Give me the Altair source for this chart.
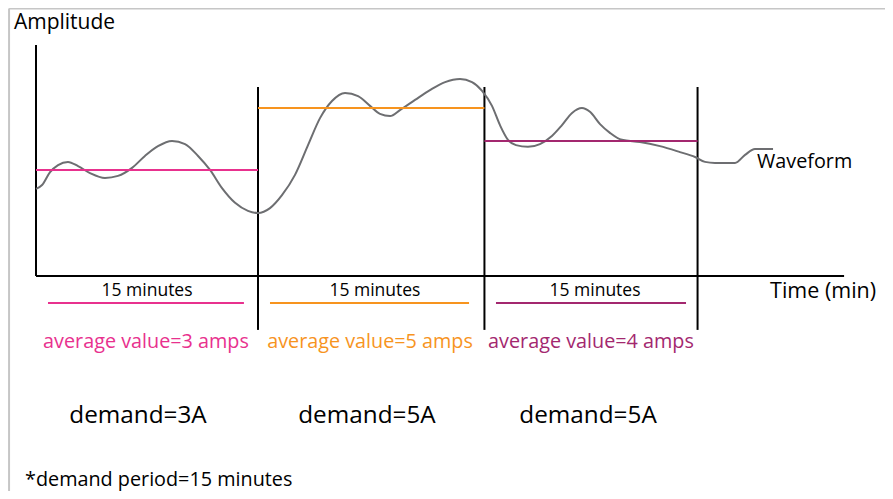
import altair as alt
import pandas as pd

# ---- data (time in minutes, amplitude in arbitrary units; axis baseline = 0) ----
wave_t = [0, 0.41, 0.95, 1.49, 2.16, 2.84, 3.65, 4.66, 5.54, 6.49, 7.36, 8.24, 9.19, 10.07,
          10.95, 11.76, 12.57, 13.45, 14.32, 15.0, 15.81, 16.62, 17.5, 18.38, 19.19, 20.0,
          20.88, 21.76, 22.57, 23.24, 23.92, 24.59, 25.61, 26.62, 27.64, 28.65, 29.46, 30.14,
          30.81, 31.35, 31.89, 32.43, 33.24, 34.05, 34.86, 35.54, 36.22, 36.89, 37.43, 38.11,
          38.78, 39.59, 40.81, 42.16, 43.51, 44.53, 45.2, 45.88, 47.23, 47.91, 48.58, 49.8]
wave_amp = [2.49, 2.6, 2.97, 3.17, 3.26, 3.14, 2.94, 2.8, 2.86, 3.09, 3.43, 3.71, 3.86, 3.77,
            3.43, 3.03, 2.51, 2.09, 1.86, 1.8, 1.94, 2.31, 2.89, 3.74, 4.51, 5.0,
            5.23, 5.14, 4.86, 4.63, 4.57, 4.74, 5.03, 5.31, 5.54, 5.63, 5.54, 5.29,
            4.86, 4.31, 3.89, 3.74, 3.69, 3.77, 4.0, 4.31, 4.66, 4.8, 4.69, 4.34,
            4.09, 3.89, 3.83, 3.71, 3.54, 3.4, 3.26, 3.23, 3.23, 3.46, 3.63, 3.63]

period_start = [0, 15, 30.3]
period_end = [15, 30.3, 44.7]
avg_level = [3.03, 4.8, 3.86]
period_color = ["#e8318e", "#f7941e", "#a3286f"]
avg_labels = ["average value=3 amps", "average value=5 amps", "average value=4 amps"]
demand_labels = ["demand=3A", "demand=5A", "demand=5A"]
dur_labels = ["15 minutes", "15 minutes", "15 minutes"]
underline_start = [0.81, 15.81, 31.08]
underline_end = [14.05, 29.26, 43.92]
dur_label_t = [7.5, 22.9, 37.77]
avg_label_t = [7.43, 22.57, 37.5]
demand_label_t = [6.89, 22.36, 37.3]
boundary_t = [15, 30.3, 44.7]

# ---- scales ----
W, H = 877, 483
xs = alt.Scale(domain=[-1.892, 57.365], nice=False, zero=False)
ys = alt.Scale(domain=[-6.143, 7.657], nice=False, zero=False)
X = lambda f: alt.X(f, type="quantitative", scale=xs, axis=None)
Y = lambda f: alt.Y(f, type="quantitative", scale=ys, axis=None)
FONT = "Open Sans"

wave_df = pd.DataFrame({"t": wave_t, "a": wave_amp})
per_df = pd.DataFrame({
    "t0": period_start, "t1": period_end, "lvl": avg_level, "col": period_color,
    "u0": underline_start, "u1": underline_end, "avg": avg_labels, "dem": demand_labels,
    "dur": dur_labels, "tl": dur_label_t, "ta": avg_label_t, "td": demand_label_t,
    "ul": [-0.77] * 3, "yl_dur": [-0.44] * 3, "yl_avg": [-1.886] * 3, "yl_dem": [-4.0] * 3,
})
bnd_df = pd.DataFrame({"t": boundary_t, "top": [5.4] * 3, "bot": [-1.54] * 3})
axes_df = pd.DataFrame({"x0": [0, 0], "x1": [0, 54.6], "y0": [0, 0], "y1": [6.6, 0]})
frame_df = pd.DataFrame({"x0": [-1.82, -1.82], "x1": [-1.82, 57.4], "y0": [-6.2, 7.64], "y1": [7.64, 7.64]})

frame = alt.Chart(frame_df).mark_rule(color="#c6c6c6", strokeWidth=2).encode(
    x=X("x0"), x2="x1", y=Y("y0"), y2="y1")
axes = alt.Chart(axes_df).mark_rule(color="#000", strokeWidth=2).encode(
    x=X("x0"), x2="x1", y=Y("y0"), y2="y1")
bounds = alt.Chart(bnd_df).mark_rule(color="#000", strokeWidth=2).encode(
    x=X("t"), y=Y("bot"), y2="top")
wave = alt.Chart(wave_df).mark_line(color="#6d6e71", strokeWidth=2, interpolate="monotone").encode(
    x=X("t"), y=Y("a"))
avg = alt.Chart(per_df).mark_rule(strokeWidth=2).encode(
    x=X("t0"), x2="t1", y=Y("lvl"), color=alt.Color("col:N", scale=None))
under = alt.Chart(per_df).mark_rule(strokeWidth=2).encode(
    x=X("u0"), x2="u1", y=Y("ul"), color=alt.Color("col:N", scale=None))
dur_txt = alt.Chart(per_df).mark_text(font=FONT, fontSize=17.5, color="#000", baseline="middle").encode(
    x=X("tl"), y=Y("yl_dur"), text="dur:N")
avg_txt = alt.Chart(per_df).mark_text(font=FONT, fontSize=19.8, baseline="middle").encode(
    x=X("ta"), y=Y("yl_avg"), text="avg:N", color=alt.Color("col:N", scale=None))
dem_txt = alt.Chart(per_df).mark_text(font=FONT, fontSize=24.3, color="#000", baseline="middle").encode(
    x=X("td"), y=Y("yl_dem"), text="dem:N")

misc_df = pd.DataFrame({
    "label": ["Time (min)", "Waveform"],
    "t": [49.6, 48.72],
    "a": [-0.46, 3.26],
    "size": [21.5, 19.8],
})
misc_txt = alt.Chart(misc_df).mark_text(font=FONT, color="#000", align="left",
                                        baseline="middle").encode(
    x=X("t"), y=Y("a"), text="label:N", size=alt.Size("size:Q", scale=None))
corner_df = pd.DataFrame({"label": ["Amplitude", "*demand period=15 minutes"],
                          "t": [-1.49, -0.74], "a": [7.06, -5.99], "size": [21, 19.8]})
corner_txt = alt.Chart(corner_df).mark_text(font=FONT, color="#000", align="left",
                                            baseline="alphabetic").encode(
    x=X("t"), y=Y("a"), text="label:N", size=alt.Size("size:Q", scale=None))

chart = alt.layer(frame, axes, bounds, wave, avg, under, dur_txt, avg_txt, dem_txt, misc_txt,
                  corner_txt).properties(
    width=W, height=H, autosize=alt.AutoSizeParams(type="none"), padding=0,
    background="white",
).configure_view(stroke=None)

chart.save("out.html", embed_options={"renderer": "svg", "actions": False})
